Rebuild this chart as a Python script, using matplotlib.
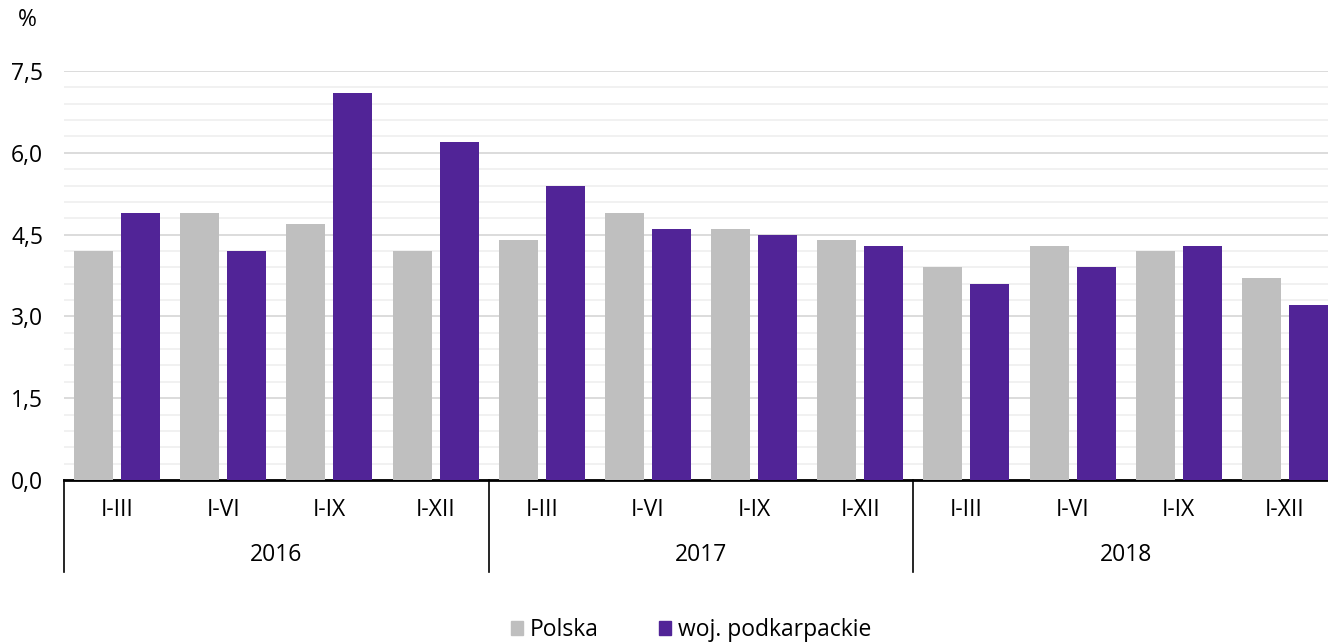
import numpy as np
import matplotlib
matplotlib.use("Agg")
import matplotlib.pyplot as plt
from matplotlib.patches import Patch
from matplotlib.transforms import blended_transform_factory

plt.rcParams['font.family'] = ['Open Sans', 'DejaVu Sans']

periods = ["I-III", "I-VI", "I-IX", "I-XII"] * 3
years = ["2016", "2017", "2018"]
polska = [4.2, 4.9, 4.7, 4.2, 4.4, 4.9, 4.6, 4.4, 3.9, 4.3, 4.2, 3.7]
podkarpackie = [4.9, 4.2, 7.1, 6.2, 5.4, 4.6, 4.5, 4.3, 3.6, 3.9, 4.3, 3.2]
series_names = ["Polska", "woj. podkarpackie"]
colors = ["#bfbfbf", "#512497"]

FS = 16.5
W, H = 1328, 643
fig = plt.figure(figsize=(W / 100, H / 100), dpi=100)
x0, x1 = 64, 1338
y0, y1 = 480, 71
ax = fig.add_axes([x0 / W, (H - y0) / H, (x1 - x0) / W, (y0 - y1) / H])

x = np.arange(len(periods))
off, bw = 0.221, 0.367
ax.bar(x - off, polska, bw, color=colors[0], zorder=3)
ax.bar(x + off, podkarpackie, bw, color=colors[1], zorder=3)

ax.set_xlim(-0.5, len(periods) - 0.5)
ax.set_ylim(0, 7.5)
ax.set_yticks(np.arange(0, 7.51, 1.5))
ax.set_yticklabels([f"{v:.1f}".replace(".", ",") for v in np.arange(0, 7.51, 1.5)], fontsize=FS)
ax.set_yticks(np.arange(0, 7.51, 0.3), minor=True)
ax.tick_params(axis='y', which='both', length=0, pad=15)
ax.tick_params(axis='x', which='both', length=0, labelbottom=False)
ax.grid(axis='y', which='major', color='#d9d9d9', lw=1.3, zorder=0)
ax.grid(axis='y', which='minor', color='#f0f0f0', lw=1.3, zorder=0)
ax.set_axisbelow(True)
for s in ["top", "right", "left"]:
    ax.spines[s].set_visible(False)
ax.spines["bottom"].set_color("black")
ax.spines["bottom"].set_linewidth(2)

tr = blended_transform_factory(ax.transData, ax.transAxes)
ph = y0 - y1
for i, p in enumerate(periods):
    ax.text(i, -(510 - y0) / ph, p, transform=tr, ha='center', va='center', fontsize=FS)
for g, yr in enumerate(years):
    ax.text(g * 4 + 1.5, -(555 - y0) / ph, yr, transform=tr, ha='center', va='center', fontsize=FS)
for g in range(len(years)):
    ax.plot([g * 4 - 0.5] * 2, [0, -(572 - y0) / ph], transform=tr, color='black', lw=1.2, clip_on=False)

fig.text(27 / W, 1 - 20 / H, "%", ha='center', va='center', fontsize=FS)

handles = [Patch(color=c) for c in colors]
fig.legend(handles, series_names, loc='center', bbox_to_anchor=(691 / W, 1 - 630 / H), ncol=2,
           frameon=False, fontsize=FS, handlelength=0.55, handleheight=0.55, handletextpad=0.3,
           columnspacing=2.6)

fig.savefig("out.png", dpi=100)
